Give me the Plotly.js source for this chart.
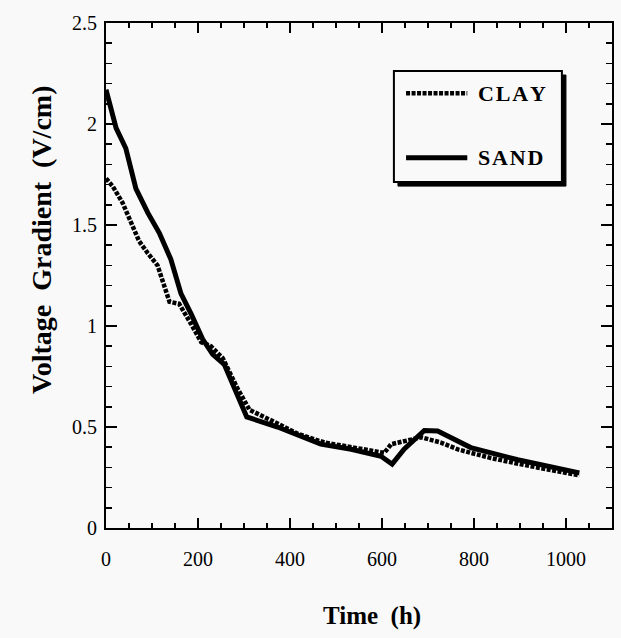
<!DOCTYPE html>
<html>
<head>
<meta charset="utf-8">
<script src="https://cdn.plot.ly/plotly-3.0.1.min.js"></script>
<style>
  html, body { margin: 0; padding: 0; background: #f9f9f9; }
  #chart { width: 621px; height: 638px; }
</style>
</head>
<body>
<div id="chart"></div>
<script>
// Time (h) and voltage gradient (V/cm)
const sandTime = [0, 22, 43, 65, 91, 116, 141, 163, 185, 210, 232, 257, 306, 373, 467, 533, 598, 622, 648, 692, 721, 793, 895, 1029];
const sandVolt = [2.17, 1.98, 1.88, 1.68, 1.56, 1.46, 1.33, 1.16, 1.06, 0.935, 0.86, 0.81, 0.55, 0.50, 0.415, 0.39, 0.355, 0.316, 0.39, 0.483, 0.48, 0.398, 0.338, 0.273];

const clayTime = [0, 15, 36, 54, 72, 91, 112, 138, 159, 185, 207, 228, 254, 286, 312, 373, 417, 475, 533, 605, 620, 648, 685, 728, 765, 837, 909, 1029];
const clayVolt = [1.73, 1.69, 1.61, 1.52, 1.42, 1.36, 1.30, 1.12, 1.11, 1.01, 0.92, 0.90, 0.84, 0.69, 0.585, 0.517, 0.466, 0.423, 0.398, 0.372, 0.415, 0.432, 0.449, 0.423, 0.389, 0.346, 0.312, 0.261];

const seriesNames = ['CLAY', 'SAND'];
const xTickVals = [0, 200, 400, 600, 800, 1000];
const yTickVals = [0, 0.5, 1, 1.5, 2, 2.5];
const yTickText = ['0', '0.5', '1', '1.5', '2', '2.5'];

const serif = 'Liberation Serif, Times New Roman, serif';
const clayDash = '4px,1.5px';

const traces = [
  { x: clayTime, y: clayVolt, name: seriesNames[0], type: 'scatter', mode: 'lines',
    line: { color: '#000', width: 4.5, dash: clayDash } },
  { x: sandTime, y: sandVolt, name: seriesNames[1], type: 'scatter', mode: 'lines',
    line: { color: '#000', width: 5 } }
];

// legend box geometry (paper coords)
const bx0 = 0.569, bx1 = 0.901, by0 = 0.685, by1 = 0.905, sh = 0.008;
const lx0 = 0.593, lx1 = 0.714, yClay = 0.861, ySand = 0.733, tx = 0.731;

const layout = {
  width: 621, height: 638,
  margin: { l: 106, r: 9, t: 23, b: 110 },
  paper_bgcolor: '#f9f9f9',
  plot_bgcolor: '#f9f9f9',
  showlegend: false,
  font: { family: serif, color: '#000', size: 20 },
  xaxis: {
    range: [0, 1100], tickvals: xTickVals, ticks: 'inside', ticklen: 10, tickwidth: 1.5,
    tickcolor: '#000', showline: true, linecolor: '#000', linewidth: 2, mirror: 'allticks',
    showgrid: false, zeroline: false, ticklabelstandoff: 12,
    tickfont: { family: serif, size: 20, color: '#000' },
    minor: { dtick: 50, ticks: 'inside', ticklen: 5, tickwidth: 1.5, tickcolor: '#000', showgrid: false }
  },
  yaxis: {
    range: [0, 2.5], tickvals: yTickVals, ticktext: yTickText, ticks: 'inside', ticklen: 11, tickwidth: 1.5,
    tickcolor: '#000', showline: true, linecolor: '#000', linewidth: 2, mirror: 'allticks',
    showgrid: false, zeroline: false, ticklabelstandoff: 3,
    tickfont: { family: serif, size: 20, color: '#000' },
    minor: { dtick: 0.1, ticks: 'inside', ticklen: 6, tickwidth: 1.5, tickcolor: '#000', showgrid: false }
  },
  shapes: [
    { type: 'rect', xref: 'paper', yref: 'paper', x0: bx0 + sh, x1: bx1 + sh, y0: by0 - sh, y1: by1 - sh,
      fillcolor: '#000', line: { color: '#000', width: 1 }, layer: 'above' },
    { type: 'rect', xref: 'paper', yref: 'paper', x0: bx0, x1: bx1, y0: by0, y1: by1,
      fillcolor: '#f9f9f9', line: { color: '#000', width: 2 }, layer: 'above' },
    { type: 'line', xref: 'paper', yref: 'paper', x0: lx0, x1: lx1, y0: yClay, y1: yClay,
      line: { color: '#000', width: 4.5, dash: clayDash }, layer: 'above' },
    { type: 'line', xref: 'paper', yref: 'paper', x0: lx0, x1: lx1, y0: ySand, y1: ySand,
      line: { color: '#000', width: 5 }, layer: 'above' }
  ],
  annotations: [
    { xref: 'paper', yref: 'paper', x: tx, y: yClay, xanchor: 'left', yanchor: 'middle', showarrow: false,
      text: '<b>' + seriesNames[0].split('').join('&#8202;') + '</b>', font: { family: serif, size: 22, color: '#000' } },
    { xref: 'paper', yref: 'paper', x: tx, y: ySand, xanchor: 'left', yanchor: 'middle', showarrow: false,
      text: '<b>' + seriesNames[1].split('').join('&#8202;') + '</b>', font: { family: serif, size: 22, color: '#000' } },
    { xref: 'paper', yref: 'paper', x: (372 - 106) / 506, y: (528 - 616) / 505, xanchor: 'center', yanchor: 'middle',
      showarrow: false, text: '<b>Time  (h)</b>', font: { family: serif, size: 25, color: '#000' } },
    { xref: 'paper', yref: 'paper', x: (41 - 106) / 506, y: (528 - 240) / 505, xanchor: 'center', yanchor: 'middle',
      showarrow: false, textangle: -90, text: '<b>Voltage  Gradient  (V/cm)</b>', font: { family: serif, size: 28, color: '#000' } }
  ]
};

Plotly.newPlot('chart', traces, layout, { displayModeBar: false, staticPlot: true });
</script>
</body>
</html>
